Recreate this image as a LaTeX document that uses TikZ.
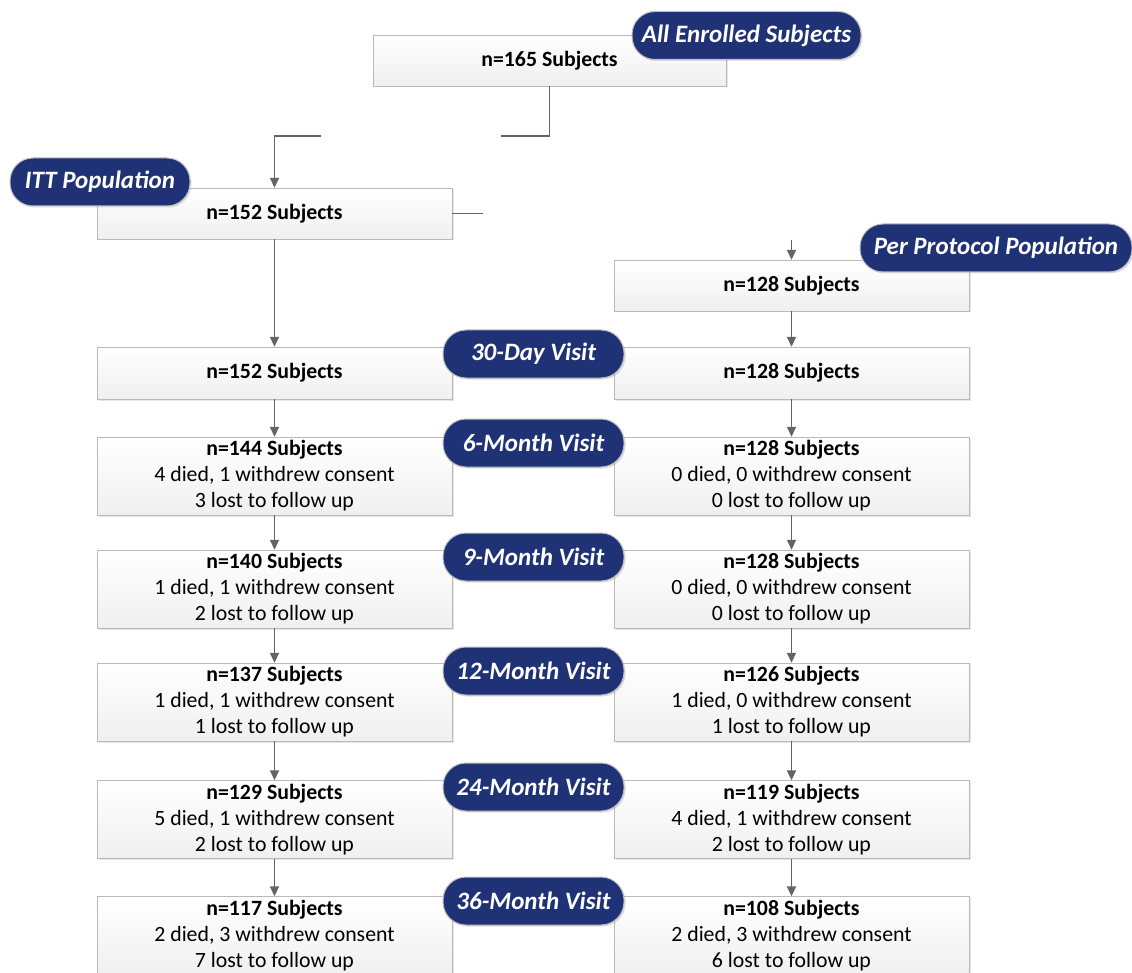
\documentclass[tikz,border=0pt]{standalone}
\usepackage{fontspec}
\setmainfont{Carlito}
\usetikzlibrary{arrows.meta}
\usetikzlibrary{shadows}
\usetikzlibrary{positioning}

\definecolor{tagblue}{RGB}{32,50,118}
\definecolor{linegray}{RGB}{100,100,100}

\newcommand{\visit}[4]{\textbf{n=#1 Subjects}\\#2 died, #3 withdrew consent\\#4 lost to follow up}

\tikzset{
  box/.style = {rectangle, draw=gray!55, top color=white, bottom color=gray!12,
    minimum width=355pt, minimum height=51pt, align=center, inner sep=0pt,
    font=\fontsize{21.8}{26}\selectfont,
    drop shadow={shadow xshift=1.5pt, shadow yshift=-1.5pt, opacity=0.2}},
  tallbox/.style = {box, minimum height=78pt},
  tag/.style = {rectangle, rounded corners=23pt, fill=tagblue, draw=gray!50, line width=1pt,
    text=white, minimum height=48pt, inner sep=0pt,
    font=\fontsize{25}{28}\selectfont\bfseries\itshape,
    drop shadow={shadow xshift=1.5pt, shadow yshift=-1.5pt, opacity=0.25}},
  link/.style = {draw=linegray, line width=1.6pt},
  flow/.style = {link, -{Triangle[length=10pt, width=9pt]}}
}

\begin{document}
\begin{tikzpicture}[x=1pt, y=-1pt]
  \useasboundingbox (0,0) rectangle (1132,973);

  % enrolment and populations
  \node [box, minimum width=353pt] (all) at (549.5, 60.5) {\textbf{n=165 Subjects}};
  \node [box] (itt) at (274.5, 213.5) {\textbf{n=152 Subjects}};
  \node [box] (pp) at (791.5, 285.5) {\textbf{n=128 Subjects}};

  \coordinate (allend) at (501, 136);
  \coordinate (ittstart) at (321, 136);
  \coordinate (ittend) at (483, 213.5);
  \coordinate (ppstart) at (791.5, 240);

  % visits, ITT column
  \node [box, minimum height=52pt] (d30l) at (274.5, 373) {\textbf{n=152 Subjects}};
  \node [tallbox] (m6l) at (274.5, 476) {\visit{144}{4}{1}{3}};
  \node [tallbox] (m9l) at (274.5, 589) {\visit{140}{1}{1}{2}};
  \node [tallbox] (m12l) at (274.5, 702) {\visit{137}{1}{1}{1}};
  \node [tallbox] (m24l) at (274.5, 819.5) {\visit{129}{5}{1}{2}};
  \node [tallbox] (m36l) at (274.5, 935.5) {\visit{117}{2}{3}{7}};

  % visits, per protocol column
  \node [box, minimum height=52pt] (d30r) at (791.5, 373) {\textbf{n=128 Subjects}};
  \node [tallbox] (m6r) at (791.5, 476) {\visit{128}{0}{0}{0}};
  \node [tallbox] (m9r) at (791.5, 589) {\visit{128}{0}{0}{0}};
  \node [tallbox] (m12r) at (791.5, 702) {\visit{126}{1}{0}{1}};
  \node [tallbox] (m24r) at (791.5, 819.5) {\visit{119}{4}{1}{2}};
  \node [tallbox] (m36r) at (791.5, 935.5) {\visit{108}{2}{3}{6}};

  % connectors
  \draw [link] (all.south) |- (allend);
  \draw [flow] (ittstart) -| (itt.north);
  \draw [link] (itt.east) -- (ittend);
  \draw [flow] (ppstart) -- (pp.north);
  \draw [flow] (itt) -- (d30l);
  \draw [flow] (pp) -- (d30r);
  \foreach \a/\b in {d30l/m6l, m6l/m9l, m9l/m12l, m12l/m24l, m24l/m36l,
                     d30r/m6r, m6r/m9r, m9r/m12r, m12r/m24r, m24r/m36r}
    \draw [flow] (\a) -- (\b);

  % labels
  \node [tag, minimum width=229pt] (alltag) at (746.5, 35.5) {All Enrolled Subjects};
  \node [tag, minimum width=180pt] (itttag) at (100, 182) {ITT Population};
  \node [tag, minimum width=272pt] (pptag) at (996, 248) {Per Protocol Population};
  \node [tag, minimum width=181pt] (t30) at (533.5, 354) {30-Day Visit};
  \node [tag, minimum width=181pt] (t6) at (533.5, 443) {6-Month Visit};
  \node [tag, minimum width=181pt] (t9) at (533.5, 557) {9-Month Visit};
  \node [tag, minimum width=181pt] (t12) at (533.5, 671) {12-Month Visit};
  \node [tag, minimum width=181pt] (t24) at (533.5, 787) {24-Month Visit};
  \node [tag, minimum width=181pt] (t36) at (533.5, 901) {36-Month Visit};
\end{tikzpicture}
\end{document}
